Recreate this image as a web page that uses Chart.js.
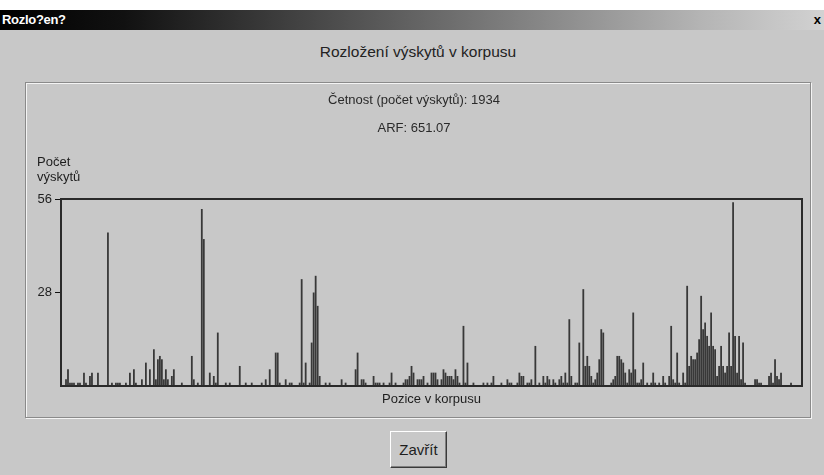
<!DOCTYPE html>
<html>
<head>
<meta charset="utf-8">
<script src="https://cdn.jsdelivr.net/npm/chart.js@4.4.1/dist/chart.umd.min.js"></script>
<style>
  body { margin: 0; width: 824px; height: 475px; background: #c8c8c8; position: relative; overflow: hidden;
         font-family: "Liberation Sans", Arial, sans-serif; color: #1e1e1e; }
  .strip { position: absolute; left: 0; top: 0; width: 824px; height: 10px; background: #fff; }
  .titlebar { position: absolute; left: 0; top: 10px; width: 824px; height: 20px;
              background: linear-gradient(to right, #000 0%, #111 15%, #6e6e6e 55%, #b4b4b4 85%, #d2d2d2 100%); }
  .titlebar .cap { position: absolute; left: 2px; top: 2px; color: #fff; font-weight: bold; font-size: 13px; letter-spacing: -0.3px; }
  .titlebar .close { position: absolute; right: 3px; top: 2px; color: #000; font-weight: bold; font-size: 13px; }
  .heading { position: absolute; left: 25px; top: 43px; width: 786px; text-align: center; font-size: 15.5px; line-height: 18px; color: #222; }
  .panel { position: absolute; left: 25px; top: 82px; width: 784px; height: 334px;
           border: 1px solid #8a8a8a; box-shadow: inset 1px 1px 0 #f4f4f4, 1px 1px 0 #f4f4f4; }
  .plot { position: absolute; left: 26px; top: 83px; width: 784px; height: 334px; }
  .btn { position: absolute; left: 390px; top: 431px; width: 55px; height: 35px; background: #c8c8c8;
         border: 1px solid; border-color: #fff #3a3a3a #3a3a3a #fff; box-shadow: inset -1px -1px 0 #808080;
         font-size: 15px; line-height: 35px; text-align: center; }
</style>
</head>
<body>
<div class="strip"></div>
<div class="titlebar"><span class="cap">Rozlo?en?</span><span class="close">x</span></div>
<div class="heading">Rozložení výskytů v korpusu</div>
<div class="panel"></div>
<div class="plot"><canvas id="distChart"></canvas></div>
<div class="btn">Zavřít</div>
<script>
// Distribution of hits across the corpus (one bin = one slice of the corpus)
const binCount = 371;
const hitBins = [
  2, 3, 4, 5, 6, 8, 9, 11, 12, 14, 15, 18, 23, 25, 27, 28, 29, 32, 34, 36, 37, 40, 42, 44, 46, 47, 48, 49, 50, 51,
  52, 53, 55, 56, 60, 65, 66, 68, 70, 71, 74, 76, 77, 78, 82, 84, 89, 92, 95, 100, 102, 104,
  107, 108, 109, 112, 114, 115, 119, 120, 121, 122, 124, 125, 126, 127, 128, 129, 132, 134, 140, 142, 147, 148, 150, 151, 152, 156,
  157, 158, 159, 161, 164, 165, 167, 171, 172, 173, 174, 175, 176, 178, 179, 180, 181, 183, 185, 186, 187, 188, 190, 191, 192,
  193, 194, 195, 196, 197, 198, 199, 201, 202, 203, 206,
  211, 213, 215, 216, 220, 223, 224, 225, 228, 229, 230, 231, 233, 234, 235, 237, 239, 241, 242, 243, 244, 246, 247, 249, 250,
  251, 252, 253, 254, 255, 257, 258, 259, 261, 262, 263, 264, 265, 266, 267, 268, 269, 270, 271, 275, 276, 277, 278, 279, 280,
  281, 282, 283, 284, 285, 286, 287, 288, 289, 290, 291, 293, 295, 296, 297, 299, 301, 302, 304, 305, 306, 307, 308, 309, 311,
  312, 313, 314, 315, 316, 317, 318, 319, 320, 321, 322, 323, 324, 325, 326, 327, 328, 329, 330, 331, 332, 333, 334, 335, 336,
  337, 338, 339, 340, 341, 342, 347, 348, 349, 350, 354, 355, 356, 357, 358, 359, 360, 365
];
const hitCounts = [
  2, 5, 1, 1, 1, 1, 1, 4, 1, 3, 4, 4, 46, 1, 1, 1, 1, 1, 4, 5, 1, 2, 7, 5, 11, 2, 8, 9, 8, 2,
  5, 2, 3, 5, 1, 9, 2, 1, 53, 44, 4, 3, 1, 16, 1, 1, 6, 1, 1, 1, 2, 5,
  10, 10, 1, 2, 1, 1, 1, 32, 1, 7, 1, 13, 28, 33, 24, 3, 1, 1, 2, 1, 5, 10, 2, 2, 1, 3,
  1, 1, 1, 1, 1, 4, 1, 1, 2, 2, 3, 6, 4, 2, 2, 2, 3, 1, 4, 4, 4, 2, 2, 5, 4,
  3, 3, 3, 2, 5, 3, 1, 18, 1, 7, 1,
  1, 1, 1, 3, 1, 2, 1, 1, 1, 4, 3, 3, 1, 1, 2, 12, 1, 3, 1, 3, 2, 2, 1, 2, 3,
  1, 4, 1, 20, 3, 1, 1, 13, 29, 6, 9, 6, 3, 1, 2, 4, 8, 17, 16, 1, 2, 3, 9, 9, 8,
  7, 4, 1, 5, 4, 22, 5, 1, 1, 2, 7, 1, 1, 4, 1, 1, 3, 1, 3, 18, 2, 1, 10, 1, 4,
  1, 30, 6, 9, 8, 8, 10, 14, 27, 17, 19, 15, 12, 22, 12, 11, 3, 6, 12, 6, 4, 6, 16, 6, 55,
  15, 4, 15, 2, 13, 1, 2, 2, 1, 1, 3, 4, 1, 8, 3, 2, 4, 1
];
const yTicks = [0, 28, 56];
const headerLines = ['Četnost (počet výskytů): 1934', 'ARF: 651.07'];
const yTitle = ['Počet', 'výskytů'];
const xTitle = 'Pozice v korpusu';

const labels = [];
const counts = [];
for (let i = 0; i < binCount; i++) { labels.push(i + 1); counts.push(0); }
hitBins.forEach((b, i) => { counts[b] = hitCounts[i]; });

const fontFamily = '"Liberation Sans", Arial, sans-serif';

const framePlugin = {
  id: 'frame',
  afterDatasetsDraw(chart) {
    const { ctx, chartArea: a } = chart;
    ctx.save();
    ctx.strokeStyle = '#2a2a2a';
    ctx.lineWidth = 2;
    ctx.strokeRect(a.left, a.top, a.right - a.left, a.bottom - a.top);
    ctx.restore();
  },
  afterDraw(chart) {
    const { ctx, chartArea: a } = chart;
    ctx.save();
    ctx.fillStyle = '#1e1e1e';
    ctx.font = '13px ' + fontFamily;
    ctx.textAlign = 'left';
    ctx.textBaseline = 'middle';
    ctx.fillText(yTitle[0], a.left - 24, a.top - 37);
    ctx.fillText(yTitle[1], a.left - 24, a.top - 22);
    ctx.restore();
  }
};

new Chart(document.getElementById('distChart'), {
  type: 'bar',
  data: {
    labels: labels,
    datasets: [{
      data: counts,
      backgroundColor: '#383838',
      borderWidth: 0,
      barPercentage: 0.9,
      categoryPercentage: 1
    }]
  },
  options: {
    responsive: true,
    maintainAspectRatio: false,
    animation: false,
    layout: { padding: { left: 0, right: 8, top: 0, bottom: 0 } },
    plugins: {
      legend: { display: false },
      tooltip: { enabled: false },
      title: {
        display: true,
        text: headerLines,
        color: '#2a2a2a',
        font: { family: fontFamily, size: 13, weight: 'normal', lineHeight: '28px' },
        padding: { top: 3, bottom: 57 }
      }
    },
    scales: {
      x: {
        ticks: { display: false },
        grid: { display: false },
        border: { display: true, color: '#000', width: 2 },
        title: { display: true, text: xTitle, color: '#1e1e1e', font: { family: fontFamily, size: 13 }, padding: { top: 0, bottom: 10 } },
        afterFit(scale) { scale.height = 31; }
      },
      y: {
        min: yTicks[0],
        max: yTicks[yTicks.length - 1],
        afterBuildTicks(scale) { scale.ticks = yTicks.map(v => ({ value: v })); },
        ticks: {
          color: '#1e1e1e',
          font: { family: fontFamily, size: 13 },
          padding: 3,
          callback: v => (v === 0 ? '' : v)
        },
        grid: {
          drawOnChartArea: false,
          drawTicks: true,
          tickLength: 6,
          color: c => (c.tick && c.tick.value === 0 ? 'rgba(0,0,0,0)' : '#111')
        },
        border: { display: true, color: '#000', width: 2 },
        afterFit(scale) { scale.width = 35; }
      }
    }
  },
  plugins: [framePlugin]
});
</script>
</body>
</html>
